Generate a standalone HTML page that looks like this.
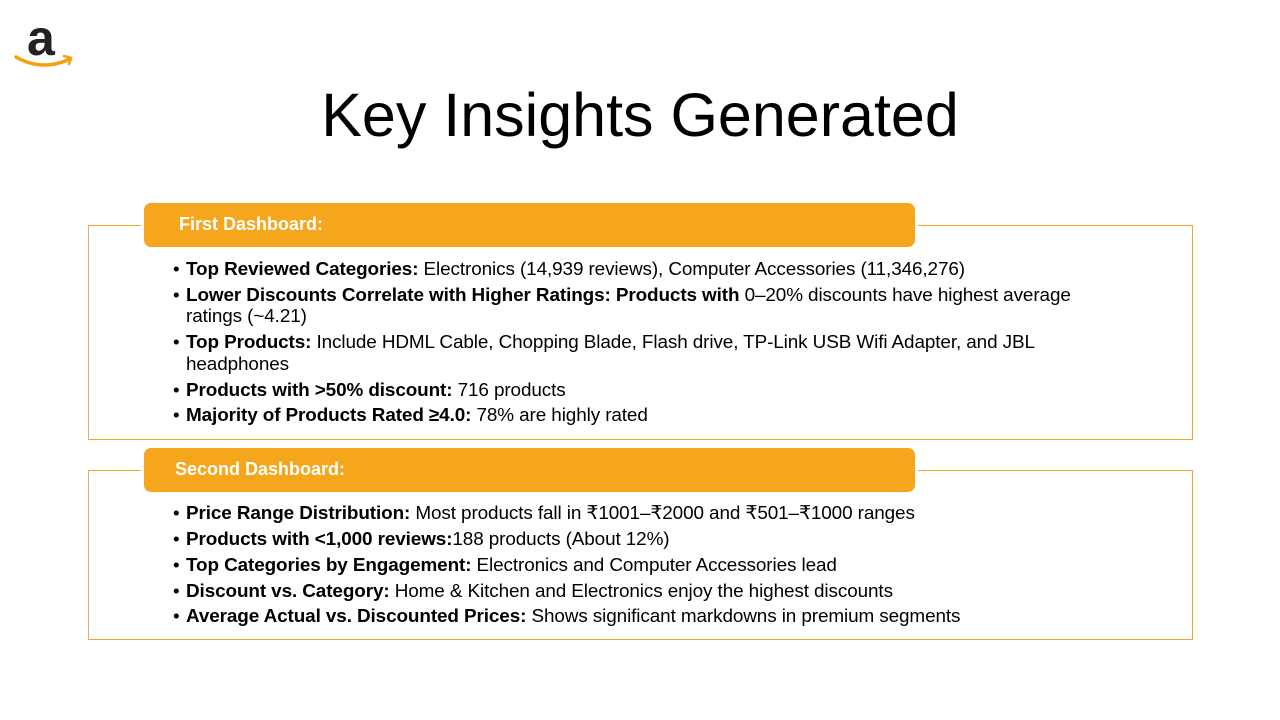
<!DOCTYPE html>
<html><head><meta charset="utf-8"><style>
body{margin:0;width:1280px;height:720px;background:#fff;position:relative;overflow:hidden;font-family:"Liberation Sans",sans-serif;color:#000}
.t{position:absolute;left:0;width:1280px;text-align:center;top:77px;font-size:61px;line-height:76px}
.box{position:absolute;left:88px;width:1103px;border:1px solid #f5a623;border-left-color:#d9b36a}
.hdr{position:absolute;left:144px;width:771px;height:44px;background:#f5a61d;border-radius:7px;color:#fff;font-weight:bold;font-size:18px;line-height:42px;box-shadow:0 0 0 3px #fff}
.l{position:absolute;left:186px;font-size:18.9px;line-height:21px;white-space:nowrap;letter-spacing:-0.1px}
.l::before{content:"•";position:absolute;left:-13px}
.l b{font-weight:bold}
.ind{position:absolute;left:186px;font-size:18.9px;line-height:21px;letter-spacing:-0.1px}
</style></head><body>
<svg style="position:absolute;left:12px;top:14px" width="64" height="56" viewBox="0 0 64 56">
<text x="15" y="41" font-family="Liberation Sans,sans-serif" font-weight="bold" font-size="50" fill="#222">a</text>
<path d="M4 43 Q30 58 58 45" stroke="#f5a00f" stroke-width="3.5" fill="none" stroke-linecap="round"/>
<path d="M52 42 L59 44 L57 50" stroke="#f5a00f" stroke-width="2.5" fill="none" stroke-linecap="round"/>
</svg>
<div class="t">Key Insights Generated</div>

<div class="box" style="top:225px;height:213px"></div>
<div class="hdr" style="top:203px;padding-left:35px;box-sizing:border-box">First Dashboard:</div>
<div class="l" style="top:259px"><b>Top Reviewed Categories:</b> Electronics (14,939 reviews), Computer Accessories (11,346,276)</div>
<div class="l" style="top:285px"><b>Lower Discounts Correlate with Higher Ratings: Products with</b> 0–20% discounts have highest average</div>
<div class="ind" style="top:306px">ratings (~4.21)</div>
<div class="l" style="top:332px"><b>Top Products:</b> Include HDML Cable, Chopping Blade, Flash drive, TP-Link USB Wifi Adapter, and JBL</div>
<div class="ind" style="top:354px">headphones</div>
<div class="l" style="top:380px"><b>Products with &gt;50% discount:</b> 716 products</div>
<div class="l" style="top:405px"><b>Majority of Products Rated ≥4.0:</b> 78% are highly rated</div>

<div class="box" style="top:470px;height:168px"></div>
<div class="hdr" style="top:448px;padding-left:31px;box-sizing:border-box">Second Dashboard:</div>
<div class="l" style="top:503px"><b>Price Range Distribution:</b> Most products fall in ₹1001–₹2000 and ₹501–₹1000 ranges</div>
<div class="l" style="top:529px"><b>Products with &lt;1,000 reviews:</b>188 products (About 12%)</div>
<div class="l" style="top:555px"><b>Top Categories by Engagement:</b> Electronics and Computer Accessories lead</div>
<div class="l" style="top:581px"><b>Discount vs. Category:</b> Home &amp; Kitchen and Electronics enjoy the highest discounts</div>
<div class="l" style="top:606px"><b>Average Actual vs. Discounted Prices:</b> Shows significant markdowns in premium segments</div>
</body></html>
